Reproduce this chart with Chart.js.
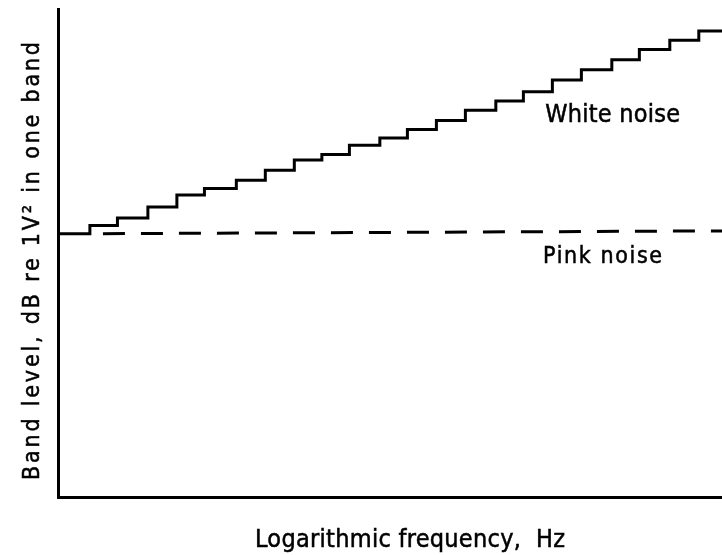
<!DOCTYPE html>
<html>
<head>
<meta charset="utf-8">
<script src="https://cdn.jsdelivr.net/npm/chart.js@4/dist/chart.umd.min.js"></script>
<style>
  html, body { margin: 0; padding: 0; background: #fff; }
  #wrap { width: 722px; height: 555px; }
</style>
</head>
<body>
<div id="wrap"><canvas id="c" width="722" height="555"></canvas></div>
<script>
// Band start positions (in band-number units along a logarithmic frequency axis)
const bandStarts = [0, 1.1, 2.05, 3.1, 4.1, 5.05, 6.15, 7.15, 8.15, 9.1, 10.05, 11.1,
                    12.05, 13.05, 14.05, 15.1, 16.05, 17.05, 18.05, 19.1, 20.05, 21.1, 22.1];
const bandEnd = 22.9;
// White noise band levels (dB, arbitrary reference) — rises ~1 dB per band
const whiteLevels = [28.6, 29.5, 30.3, 31.5, 32.8, 33.5, 34.4, 35.5, 36.6, 37.2, 38.2, 39.0,
                     39.9, 40.9, 42.0, 43.0, 44.0, 45.3, 46.4, 47.5, 48.6, 49.6, 50.6];
// Pink noise: constant band level
const pinkX = [1.55, 22.9];
const pinkLevels = [28.6, 28.9];
// Axis ranges
const xRange = [0, 22.9];
const yRange = [0, 53];
// Text
const yTitle = 'Band level, dB re 1V\u00B2 in one band';
const xTitle = 'Logarithmic frequency,  Hz';
const whiteLabel = 'White noise';
const pinkLabel = 'Pink noise';

const whitePts = bandStarts.map((x, i) => ({ x: x, y: whiteLevels[i] }));
whitePts.push({ x: bandEnd, y: whiteLevels[whiteLevels.length - 1] });
const pinkPts = pinkX.map((x, i) => ({ x: x, y: pinkLevels[i] }));

const FONT = '"DejaVu Sans Condensed", "DejaVu Sans", sans-serif';
const INK = '#000';

function drawFitted(ctx, text, x, y, size, width, rot) {
  ctx.save();
  ctx.font = size + 'px ' + FONT;
  ctx.fillStyle = INK;
  ctx.strokeStyle = INK;
  ctx.lineWidth = 0.5;
  if ('letterSpacing' in ctx) ctx.letterSpacing = '0px';
  const w = ctx.measureText(text).width;
  const n = Array.from(text).length;
  if ('letterSpacing' in ctx && n > 1) ctx.letterSpacing = ((width - w) / (n - 1)) + 'px';
  ctx.translate(x, y);
  ctx.rotate(rot);
  ctx.textAlign = 'left';
  ctx.textBaseline = 'alphabetic';
  ctx.fillText(text, 0, 0);
  ctx.strokeText(text, 0, 0);
  ctx.restore();
}

const textPlugin = {
  id: 'texts',
  afterDraw(chart) {
    const ctx = chart.ctx;
    const xs = chart.scales.x, ys = chart.scales.y;
    // series labels anchored in data space
    drawFitted(ctx, whiteLabel, xs.getPixelForValue(16.8), ys.getPixelForValue(40.7), 25, 135, 0);
    drawFitted(ctx, pinkLabel, xs.getPixelForValue(16.73), ys.getPixelForValue(25.4), 23, 119, 0);
    // axis titles
    drawFitted(ctx, xTitle, 255, 547, 25, 310, 0);
    drawFitted(ctx, yTitle, 39, 480, 23, 438, -Math.PI / 2);
  }
};

new Chart(document.getElementById('c'), {
  type: 'line',
  data: {
    datasets: [
      {
        label: whiteLabel,
        data: whitePts,
        stepped: 'before',
        borderColor: INK,
        borderWidth: 3,
        pointRadius: 0,
        fill: false,
        borderCapStyle: 'butt',
        borderJoinStyle: 'miter'
      },
      {
        label: pinkLabel,
        data: pinkPts,
        borderColor: INK,
        borderWidth: 3,
        borderDash: [22, 16],
        pointRadius: 0,
        fill: false,
        borderCapStyle: 'butt'
      }
    ]
  },
  options: {
    responsive: false,
    animation: false,
    devicePixelRatio: 1,
    layout: { padding: { top: 9, right: 0, bottom: 0, left: 0 } },
    plugins: { legend: { display: false }, tooltip: { enabled: false } },
    scales: {
      x: {
        type: 'linear',
        min: xRange[0], max: xRange[1],
        grid: { display: false, drawTicks: false },
        border: { display: true, color: INK, width: 3 },
        ticks: { display: false },
        afterFit(s) { s.height = 58; }
      },
      y: {
        type: 'linear',
        min: yRange[0], max: yRange[1],
        grid: { display: false, drawTicks: false },
        border: { display: true, color: INK, width: 3 },
        ticks: { display: false },
        afterFit(s) { s.width = 58; }
      }
    }
  },
  plugins: [textPlugin]
});
</script>
</body>
</html>
